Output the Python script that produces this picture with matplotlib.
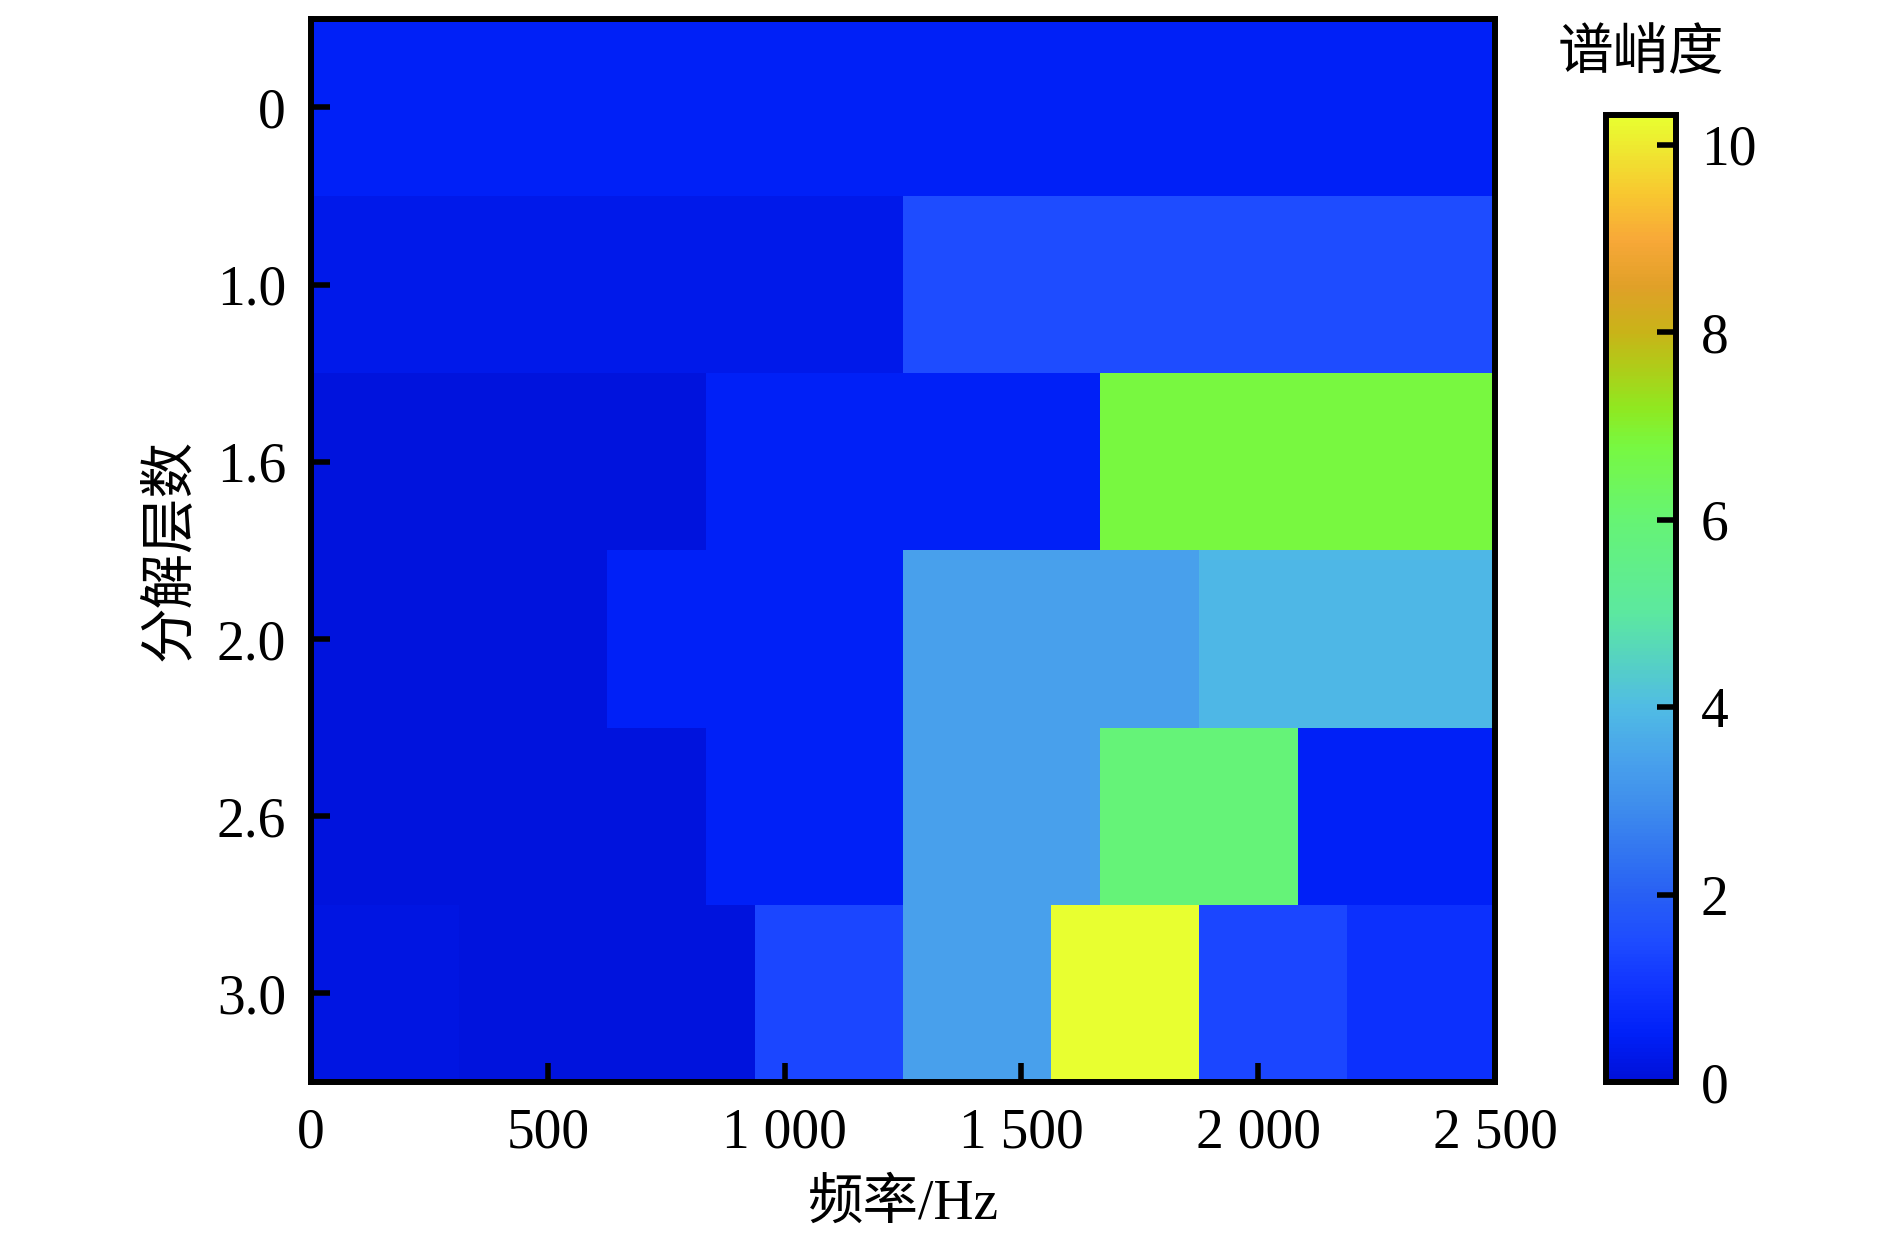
import numpy as np
import matplotlib.pyplot as plt
from matplotlib.colors import LinearSegmentedColormap
from matplotlib.ticker import FuncFormatter

plt.rcParams['font.family'] = ['Liberation Serif', 'Noto Sans CJK SC']

# 分解层数 (row labels) and spectral kurtosis values per row (equal-width bands over 0-2500 Hz)
levels = ['0', '1.0', '1.6', '2.0', '2.6', '3.0']
kurt_rows = [
    [0.5],
    [0.3, 1.5],
    [0.1, 0.5, 6.8],
    [0.1, 0.5, 3.4, 3.9],
    [0.1, 0.1, 0.5, 3.4, 5.9, 0.5],
    [0.2, 0.1, 0.1, 1.4, 3.4, 10.3, 1.4, 0.9],
]
fmax = 2500
vmin, vmax = 0, 10.32

# colour map (value, colour)
cmap_stops = [
    (0.0, '#0010d8'), (0.5, '#0020f8'), (1.0, '#1034ff'), (1.5, '#1e4cff'),
    (2.0, '#2860f4'), (3.0, '#4090ec'), (3.4, '#48a0ec'), (4.0, '#50bce4'),
    (5.0, '#5ce8a0'), (6.0, '#66f474'), (6.8, '#78f840'), (7.2, '#90e820'),
    (7.7, '#b4c818'), (8.0, '#c8b418'), (8.5, '#e0a028'), (9.0, '#f8a838'),
    (9.5, '#f8c830'), (10.32, '#e8ff30'),
]
cmap = LinearSegmentedColormap.from_list(
    'sk', [(v / vmax, c) for v, c in cmap_stops])

fig = plt.figure(figsize=(18.9, 12.56), dpi=100)
ax = fig.add_axes([0.1646, 0.1385, 0.6264, 0.8465])

for i, row in enumerate(kurt_rows):
    edges = np.linspace(0, fmax, len(row) + 1)
    ax.pcolormesh(edges, [i, i + 1], np.array([row]), cmap=cmap,
                  vmin=vmin, vmax=vmax, shading='flat')
mesh = ax.collections[0]

ax.set_xlim(0, fmax)
ax.set_ylim(len(levels), 0)
ax.set_yticks(np.arange(len(levels)) + 0.5)
ax.set_yticklabels(levels)
ax.set_xticks([0, 500, 1000, 1500, 2000, 2500])
ax.xaxis.set_major_formatter(FuncFormatter(lambda v, p: f'{int(v):,}'.replace(',', ' ')))

ax.tick_params(direction='in', length=14, width=4, labelsize=40)
ax.tick_params(axis='x', pad=18)
ax.tick_params(axis='y', pad=18)
for s in ax.spines.values():
    s.set_linewidth(4.3)

ax.set_xlabel('频率/Hz', fontsize=40, labelpad=14)
ax.set_ylabel('分解层数', fontsize=40, labelpad=14)

cax = fig.add_axes([0.8497, 0.1385, 0.037, 0.770])
cb = fig.colorbar(mesh, cax=cax, ticks=[0, 2, 4, 6, 8, 10])
cb.outline.set_linewidth(4.3)
cax.tick_params(direction='in', length=14, width=4, labelsize=40, pad=18)
fig.text(0.868, 0.956, '谱峭度', fontsize=40, ha='center', va='center')

fig.savefig('out.png', dpi=100)
